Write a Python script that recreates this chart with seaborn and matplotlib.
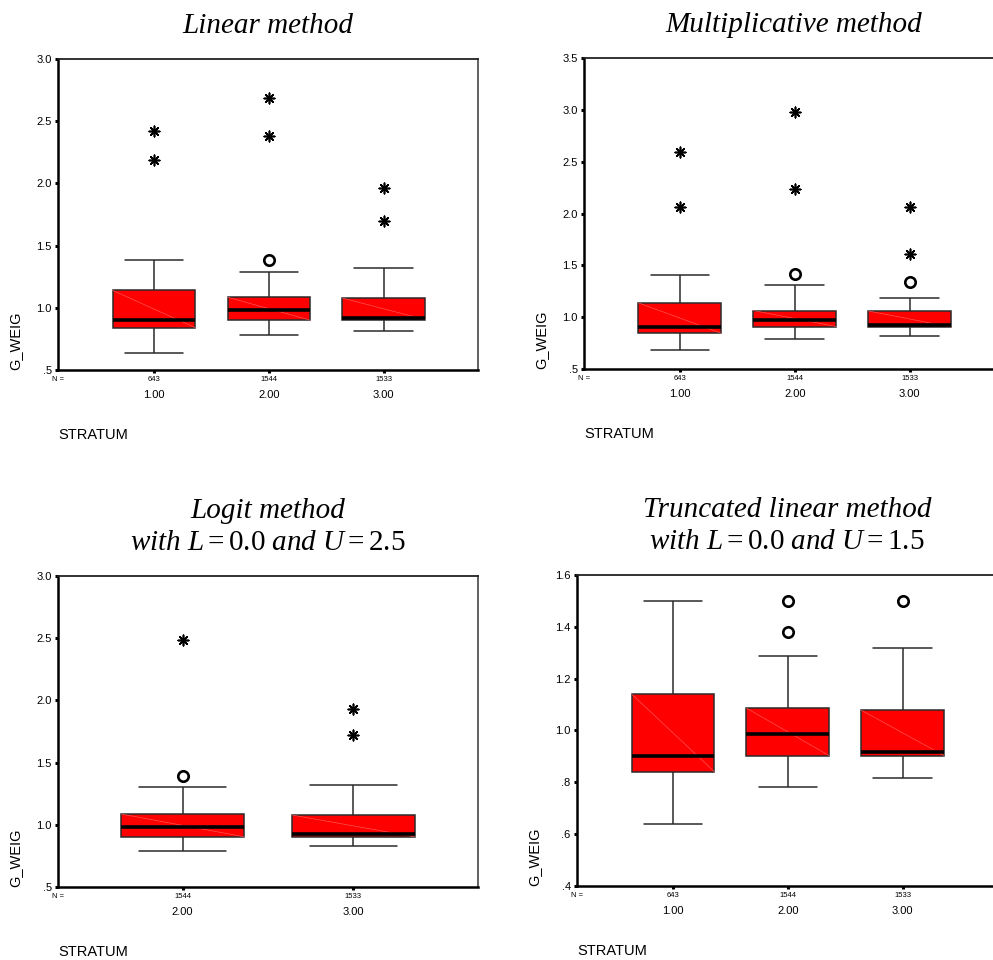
import numpy as np
import pandas as pd
import matplotlib
matplotlib.use("Agg")
import matplotlib.pyplot as plt
import seaborn as sns

# ---------------------------------------------------------------
# values
# (lower whisker, Q1, median, Q3, upper whisker) per stratum
# ---------------------------------------------------------------
strata_all = ["1.00", "2.00", "3.00"]
strata_logit = ["2.00", "3.00"]
n_counts = {"1.00": 643, "2.00": 1544, "3.00": 1533}

# Linear method
lin_lo  = [0.64, 0.78, 0.815]
lin_q1  = [0.84, 0.90, 0.905]
lin_med = [0.90, 0.985, 0.92]
lin_q3  = [1.14, 1.085, 1.078]
lin_hi  = [1.38, 1.29, 1.317]
lin_out_s = ["2.00"]
lin_out_v = [1.38]
lin_ext_s = ["1.00", "1.00", "2.00", "2.00", "3.00", "3.00"]
lin_ext_v = [2.42, 2.19, 2.69, 2.38, 1.96, 1.70]

# Multiplicative method
mul_lo  = [0.68, 0.79, 0.82]
mul_q1  = [0.845, 0.91, 0.905]
mul_med = [0.905, 0.977, 0.925]
mul_q3  = [1.138, 1.064, 1.06]
mul_hi  = [1.41, 1.306, 1.183]
mul_out_s = ["2.00", "3.00"]
mul_out_v = [1.42, 1.34]
mul_ext_s = ["1.00", "1.00", "2.00", "2.00", "3.00", "3.00"]
mul_ext_v = [2.59, 2.06, 2.98, 2.235, 2.06, 1.605]

# Logit method, L = 0.0, U = 2.5
log_lo  = [0.79, 0.83]
log_q1  = [0.904, 0.904]
log_med = [0.985, 0.926]
log_q3  = [1.087, 1.079]
log_hi  = [1.305, 1.324]
log_out_s = ["2.00"]
log_out_v = [1.39]
log_ext_s = ["2.00", "3.00", "3.00"]
log_ext_v = [2.486, 1.929, 1.72]

# Truncated linear method, L = 0.0, U = 1.5
trn_lo  = [0.64, 0.781, 0.815]
trn_q1  = [0.841, 0.903, 0.903]
trn_med = [0.902, 0.987, 0.918]
trn_q3  = [1.141, 1.086, 1.078]
trn_hi  = [1.50, 1.288, 1.317]
trn_out_s = ["2.00", "2.00", "3.00"]
trn_out_v = [1.50, 1.38, 1.50]
trn_ext_s = []
trn_ext_v = []

BOX_W = 0.72
CAP_W = 0.51

sns.set_theme(style="white")
plt.rcParams["font.family"] = ["Liberation Sans", "DejaVu Sans"]
plt.rcParams["mathtext.fontset"] = "custom"
plt.rcParams["mathtext.rm"] = "Liberation Serif"
plt.rcParams["mathtext.it"] = "Liberation Serif:italic"
for key in ["text.color", "axes.labelcolor", "xtick.color", "ytick.color"]:
    plt.rcParams[key] = "black"


def spss_label(v):
    s = f"{v:.1f}"
    return s[1:] if s.startswith("0") else s


def summary_frame(cats, lo, q1, med, q3, hi):
    rows = []
    for c, *vals in zip(cats, lo, q1, med, q3, hi):
        for v in vals:
            rows.append((c, v))
    return pd.DataFrame(rows, columns=["stratum", "g_weig"])


def draw_panel(ax, cats, lo, q1, med, q3, hi, out_s, out_v, ext_s, ext_v,
               xlim, ylim, yticks, title):
    df = summary_frame(cats, lo, q1, med, q3, hi)
    # whiskers at min/max of the five summary values -> exact boxes
    sns.boxplot(data=df, x="stratum", y="g_weig", order=cats, whis=(0, 100),
                width=BOX_W, color="#ff0000", saturation=1,
                linecolor="#2b2b2b", linewidth=1.1, showfliers=False,
                medianprops=dict(color="black", linewidth=2.6, zorder=3),
                capwidths=CAP_W, ax=ax)
    # faint diagonal line SPSS draws inside each box
    for i, (a, b) in enumerate(zip(q1, q3)):
        ax.plot([i - BOX_W / 2, i + BOX_W / 2], [b, a], color="#ff5a5a",
                lw=0.45, zorder=2.5)
    if out_v:
        sns.stripplot(x=out_s, y=out_v, order=cats, jitter=False, marker="o",
                      size=7.5, color="white", edgecolor="black",
                      linewidth=1.9, ax=ax, zorder=4)
    if ext_v:
        sns.stripplot(x=ext_s, y=ext_v, order=cats, jitter=False,
                      marker=(8, 2, 0), size=7.5, color="black",
                      edgecolor="black", linewidth=1.2, ax=ax, zorder=4)

    ax.set_xlim(xlim)
    ax.set_ylim(ylim)
    ax.set_yticks(yticks)
    ax.set_yticklabels([spss_label(v) for v in yticks], fontsize=8)
    ax.set_xticks(range(len(cats)))
    ax.set_xticklabels(cats, fontsize=8)
    ax.tick_params(axis="x", length=2.5, width=2.2, pad=12, color="black",
                   bottom=True)
    ax.tick_params(axis="y", length=2.5, width=2.2, pad=2, color="black",
                   left=True)
    ax.set_xlabel("")
    ax.set_ylabel("")
    for side in ["left", "bottom"]:
        ax.spines[side].set_color("black")
        ax.spines[side].set_linewidth(1.8)
    ax.spines["top"].set_color("#222222")
    ax.spines["top"].set_linewidth(1.3)
    ax.spines["right"].set_color("#555555")
    ax.spines["right"].set_linewidth(1.3)

    tr = ax.get_xaxis_transform()
    for i, c in enumerate(cats):
        ax.text(i, -0.029, str(n_counts[c]), transform=tr, ha="center",
                va="center", fontsize=5.5)
    ax.text(-0.015, -0.029, "N =", transform=ax.transAxes, ha="left",
            va="center", fontsize=5.5)
    ax.text(0, -0.209, "STRATUM", transform=ax.transAxes, ha="left",
            va="center", fontsize=10.5)
    ax.text(-0.102, 0, "G_WEIG", transform=ax.transAxes, rotation=90,
            ha="center", va="bottom", fontsize=10.5)
    ax.set_title(title, fontfamily="Liberation Serif", fontstyle="italic",
                 fontsize=21, pad=19, linespacing=1.3, color="black")


fig = plt.figure(figsize=(9.93, 9.6), dpi=100)
W, H = 0.423, 0.324
ax_lin = fig.add_axes([0.0584, 0.6146, W, H])
ax_mul = fig.add_axes([0.588, 0.6156, W, H])
ax_log = fig.add_axes([0.0584, 0.076, W, H])
ax_trn = fig.add_axes([0.581, 0.0771, W, H])

xl3 = (-0.835, 2.82)
xl2 = (-0.73, 1.73)

draw_panel(ax_lin, strata_all, lin_lo, lin_q1, lin_med, lin_q3, lin_hi,
           lin_out_s, lin_out_v, lin_ext_s, lin_ext_v, xl3, (0.5, 3.0),
           [0.5, 1.0, 1.5, 2.0, 2.5, 3.0], "Linear method")
draw_panel(ax_mul, strata_all, mul_lo, mul_q1, mul_med, mul_q3, mul_hi,
           mul_out_s, mul_out_v, mul_ext_s, mul_ext_v, xl3, (0.5, 3.5),
           [0.5, 1.0, 1.5, 2.0, 2.5, 3.0, 3.5], "Multiplicative method")
draw_panel(ax_log, strata_logit, log_lo, log_q1, log_med, log_q3, log_hi,
           log_out_s, log_out_v, log_ext_s, log_ext_v, xl2, (0.5, 3.0),
           [0.5, 1.0, 1.5, 2.0, 2.5, 3.0],
           "Logit method\n" + r"$\mathit{with}\ L = 0.0\ \mathit{and}\ U = 2.5$")
draw_panel(ax_trn, strata_all, trn_lo, trn_q1, trn_med, trn_q3, trn_hi,
           trn_out_s, trn_out_v, trn_ext_s, trn_ext_v, xl3, (0.4, 1.6),
           [0.4, 0.6, 0.8, 1.0, 1.2, 1.4, 1.6],
           "Truncated linear method\n" + r"$\mathit{with}\ L = 0.0\ \mathit{and}\ U = 1.5$")

fig.savefig("out.png", dpi=100)
